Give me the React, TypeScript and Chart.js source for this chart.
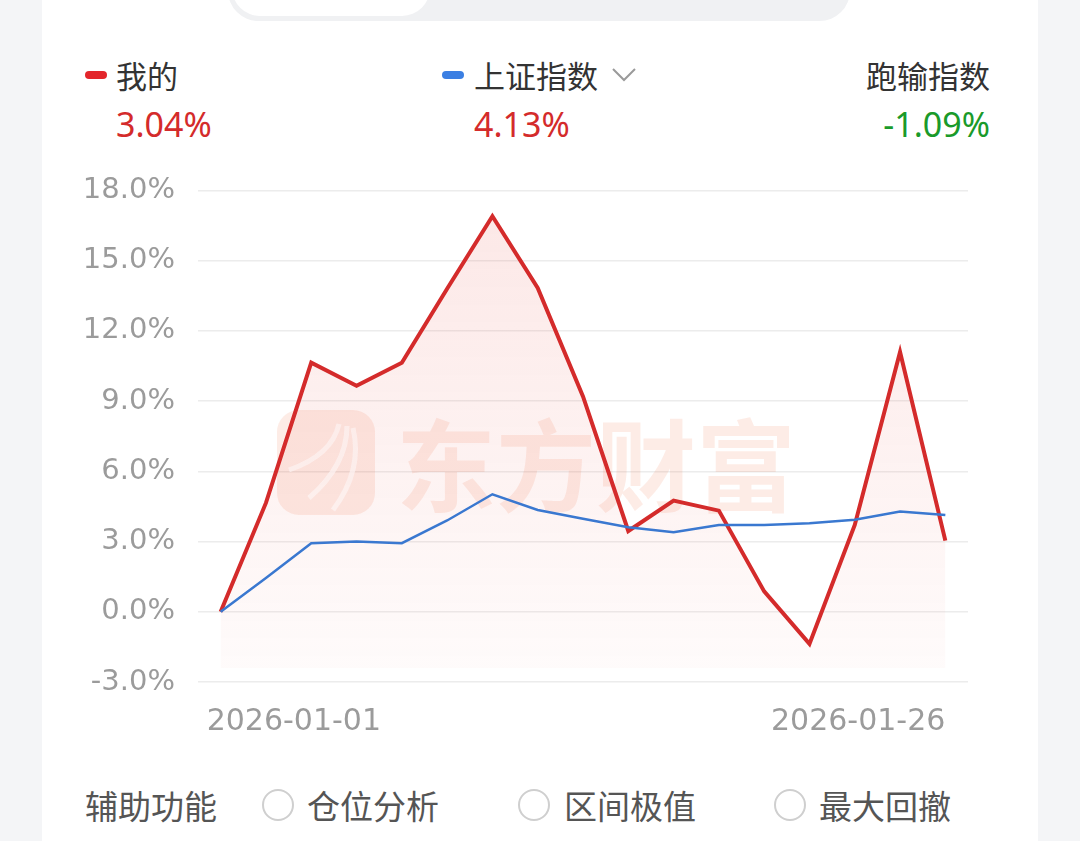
import React, { useEffect, useRef } from "react";
import { Chart, registerables } from "chart.js";

Chart.register(...registerables);

const dates = [
  "2026-01-01", "2026-01-05", "2026-01-06", "2026-01-07", "2026-01-08", "2026-01-09",
  "2026-01-12", "2026-01-13", "2026-01-14", "2026-01-15", "2026-01-16", "2026-01-19",
  "2026-01-20", "2026-01-21", "2026-01-22", "2026-01-23", "2026-01-26",
];
const mine = [0, 4.65, 10.64, 9.65, 10.64, 13.8, 16.9, 13.83, 9.2, 3.45, 4.75, 4.32, 0.87, -1.37, 3.71, 11.1, 3.04];
const shIndex = [0, 1.44, 2.93, 3.0, 2.93, 3.9, 5.02, 4.35, 3.97, 3.61, 3.4, 3.71, 3.71, 3.78, 3.93, 4.28, 4.13];
const yTicks = [-3, 0, 3, 6, 9, 12, 15, 18];
const legendValues = { mine: "3.04%", index: "4.13%", diff: "-1.09%" };

const RED = "#d42b2b";
const BLUE = "#3a78d0";
const AXIS_FONT = "'DejaVu Sans', 'Noto Sans', sans-serif";
const NUM_FONT = "'Noto Sans', sans-serif";
const CJK = "'Noto Sans CJK SC', 'Noto Sans', sans-serif";

const watermark = {
  id: "watermark",
  beforeDatasetsDraw(chart: any) {
    const ctx = chart.ctx;
    const ox = -42, oy = -150; // page -> canvas offset
    ctx.save();
    const col = "rgba(244,120,80,0.14)";
    const lx = 277 + ox, ly = 410 + oy, lw = 98, lh = 105, r = 22;
    ctx.fillStyle = col;
    ctx.beginPath();
    ctx.moveTo(lx + r, ly);
    ctx.arcTo(lx + lw, ly, lx + lw, ly + lh, r);
    ctx.arcTo(lx + lw, ly + lh, lx, ly + lh, r);
    ctx.arcTo(lx, ly + lh, lx, ly, r);
    ctx.arcTo(lx, ly, lx + lw, ly, r);
    ctx.closePath();
    ctx.fill();
    ctx.strokeStyle = "rgba(255,255,255,0.75)";
    ctx.lineWidth = 5;
    ctx.beginPath();
    ctx.moveTo(lx + 12, ly + 60);
    ctx.quadraticCurveTo(lx + 55, ly + 45, lx + 62, ly + 14);
    ctx.stroke();
    ctx.beginPath();
    ctx.moveTo(lx + 32, ly + 88);
    ctx.quadraticCurveTo(lx + 70, ly + 55, lx + 70, ly + 16);
    ctx.stroke();
    ctx.beginPath();
    ctx.moveTo(lx + 56, ly + 100);
    ctx.quadraticCurveTo(lx + 86, ly + 60, lx + 76, ly + 18);
    ctx.stroke();
    ctx.fillStyle = col;
    ctx.font = `bold 100px ${CJK}`;
    ctx.textAlign = "left";
    ctx.textBaseline = "middle";
    ctx.fillText("东方财富", 396 + ox, 466 + oy);
    ctx.restore();
  },
};

const xLabels = {
  id: "xLabels",
  afterDraw(chart: any) {
    const ctx = chart.ctx;
    const x = chart.scales.x;
    const y0 = chart.chartArea.bottom + 40;
    ctx.save();
    ctx.fillStyle = "#9b9b9b";
    ctx.font = `30px ${AXIS_FONT}`;
    ctx.textBaseline = "middle";
    ctx.textAlign = "left";
    ctx.fillText(dates[0], x.getPixelForValue(0) - 14, y0);
    ctx.textAlign = "right";
    ctx.fillText(dates[dates.length - 1], x.getPixelForValue(dates.length - 1), y0);
    ctx.restore();
  },
};

function ChartBox() {
  const ref = useRef<HTMLCanvasElement>(null);
  useEffect(() => {
    const c = new Chart(ref.current!, {
      type: "line",
      data: {
        labels: dates,
        datasets: [
          {
            label: "上证指数",
            data: shIndex,
            borderColor: BLUE,
            borderWidth: 2.5,
            pointRadius: 0,
            tension: 0,
            fill: false,
          },
          {
            label: "我的",
            data: mine,
            borderColor: RED,
            borderWidth: 4,
            pointRadius: 0,
            tension: 0,
            fill: { value: -2.4 },
            backgroundColor: (context: any) => {
              const ca = context.chart.chartArea;
              if (!ca) return "rgba(230,60,50,0.08)";
              const g = context.chart.ctx.createLinearGradient(0, ca.top, 0, ca.bottom);
              g.addColorStop(0, "rgba(232,70,60,0.13)");
              g.addColorStop(1, "rgba(232,70,60,0.02)");
              return g;
            },
          },
        ],
      },
      options: {
        animation: false,
        responsive: false,
        maintainAspectRatio: false,
        layout: { padding: { top: 40, right: 70, bottom: 88, left: 0 } },
        plugins: { legend: { display: false }, tooltip: { enabled: false } },
        scales: {
          x: { display: false, offset: true },
          y: {
            min: -3,
            max: 18,
            afterFit: (s: any) => { s.width = 156; },
            afterBuildTicks: (s: any) => { s.ticks = yTicks.map((v) => ({ value: v })); },
            border: { display: false },
            grid: { color: "#ececec", lineWidth: 1.5, drawTicks: false },
            ticks: {
              padding: 23,
              color: "#9b9b9b",
              font: { size: 29, family: AXIS_FONT },
              callback: (v: any) => Number(v).toFixed(1) + "%",
            },
          },
        },
      },
      plugins: [watermark, xLabels],
    });
    return () => c.destroy();
  }, []);
  return (
    <canvas
      ref={ref}
      width={996}
      height={620}
      style={{ position: "absolute", left: 42, top: 150, width: 996, height: 620 }}
    />
  );
}

const abs = (o: any) => ({ position: "absolute" as const, ...o });

export default function App() {
  return (
    <div style={abs({ left: 0, top: 0, width: 1080, height: 841, background: "#f4f5f7", overflow: "hidden", fontFamily: CJK })}>
      <div style={abs({ left: 42, top: 0, width: 996, height: 841, background: "#ffffff" })} />
      <div style={abs({ left: 228, top: -40, width: 622, height: 61, background: "#f0f1f3", borderRadius: 34 })} />
      <div style={abs({ left: 232, top: -40, width: 198, height: 56, background: "#ffffff", borderRadius: 30 })} />

      {/* legend */}
      <div style={abs({ left: 85, top: 71, width: 22, height: 8, borderRadius: 4, background: "#e3262b" })} />
      <div style={abs({ left: 116, top: 56, fontSize: 31, lineHeight: "38px", color: "#333" })}>我的</div>
      <div style={abs({ left: 116, top: 104, fontSize: 34, lineHeight: "40px", color: RED, fontFamily: NUM_FONT })}>{legendValues.mine}</div>

      <div style={abs({ left: 442, top: 71, width: 22, height: 8, borderRadius: 4, background: "#3b7fe3" })} />
      <div style={abs({ left: 474, top: 56, fontSize: 31, lineHeight: "38px", color: "#333" })}>上证指数</div>
      <svg style={abs({ left: 611, top: 66 })} width={26} height={18}>
        <polyline points="2,3 13,14 24,3" fill="none" stroke="#9a9a9a" strokeWidth={2} />
      </svg>
      <div style={abs({ left: 474, top: 104, fontSize: 34, lineHeight: "40px", color: RED, fontFamily: NUM_FONT })}>{legendValues.index}</div>

      <div style={abs({ right: 90, top: 56, fontSize: 31, lineHeight: "38px", color: "#333" })}>跑输指数</div>
      <div style={abs({ right: 90, top: 104, fontSize: 34, lineHeight: "40px", color: "#1a9a2a", fontFamily: NUM_FONT })}>{legendValues.diff}</div>

      <ChartBox />

      {/* bottom options */}
      <div style={abs({ left: 85, top: 785, fontSize: 33, lineHeight: "40px", color: "#555" })}>辅助功能</div>
      {[
        { cx: 262, tx: 307, t: "仓位分析" },
        { cx: 518, tx: 564, t: "区间极值" },
        { cx: 774, tx: 819, t: "最大回撤" },
      ].map((o) => (
        <React.Fragment key={o.t}>
          <div style={abs({ left: o.cx, top: 789, width: 28, height: 28, borderRadius: "50%", border: "2.5px solid #cfcfcf" })} />
          <div style={abs({ left: o.tx, top: 785, fontSize: 33, lineHeight: "40px", color: "#555" })}>{o.t}</div>
        </React.Fragment>
      ))}
    </div>
  );
}
